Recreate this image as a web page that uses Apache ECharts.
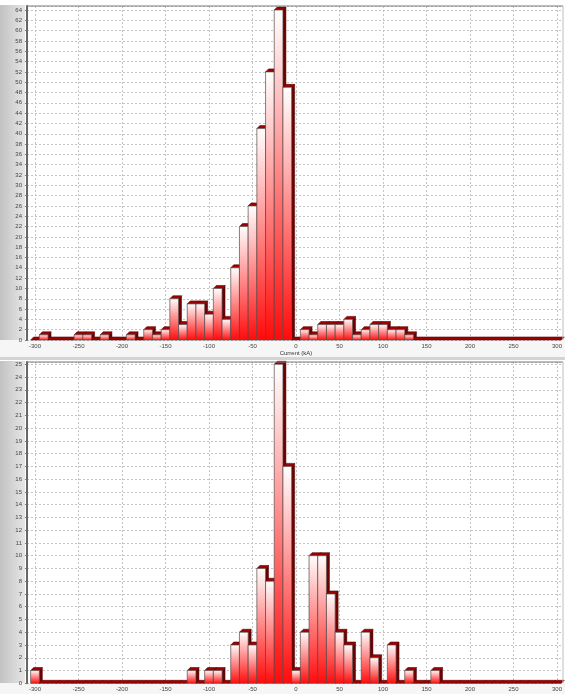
<!DOCTYPE html>
<html>
<head>
<meta charset="utf-8">
<script src="https://cdn.jsdelivr.net/npm/echarts@6/dist/echarts.min.js"></script>
<style>
  html, body { margin: 0; padding: 0; background: #ffffff; }
  #chart { width: 565px; height: 694px; }
</style>
</head>
<body>
<div id="chart"></div>
<script>
// Bin centres (kA), 10 kA wide bins
const binCenters = [
  -300, -290, -280, -270, -260, -250, -240, -230, -220, -210,
  -200, -190, -180, -170, -160, -150, -140, -130, -120, -110,
  -100, -90, -80, -70, -60, -50, -40, -30, -20, -10,
  0, 10, 20, 30, 40, 50, 60, 70, 80, 90,
  100, 110, 120, 130, 140, 150, 160, 170, 180, 190,
  200, 210, 220, 230, 240, 250, 260, 270, 280, 290,
  300
];
// Upper histogram counts
const topCounts = [
  0, 1, 0, 0, 0, 1, 1, 0, 1, 0,
  0, 1, 0, 2, 1, 2, 8, 3, 7, 7,
  5, 10, 4, 14, 22, 26, 41, 52, 64, 49,
  0, 2, 1, 3, 3, 3, 4, 1, 2, 3,
  3, 2, 2, 1, 0, 0, 0, 0, 0, 0,
  0, 0, 0, 0, 0, 0, 0, 0, 0, 0,
  0
];
// Lower histogram counts
const bottomCounts = [
  1, 0, 0, 0, 0, 0, 0, 0, 0, 0,
  0, 0, 0, 0, 0, 0, 0, 0, 1, 0,
  1, 1, 0, 3, 4, 3, 9, 8, 25, 17,
  1, 4, 10, 10, 7, 4, 3, 0, 4, 2,
  0, 3, 0, 1, 0, 0, 1, 0, 0, 0,
  0, 0, 0, 0, 0, 0, 0, 0, 0, 0,
  0
];
const xMin = -300, xMax = 300, xStep = 50;
const topYMax = 64.78, topYStep = 2;
const botYMax = 25.18, botYStep = 1;
const binHalf = 5;
const xTitle = 'Current (kA)';

const chart = echarts.init(document.getElementById('chart'), null, { renderer: 'canvas' });

const FONT = 'Liberation Sans';
const DEPTH = 3;

function renderBar(params, api) {
  const v = api.value(0), n = api.value(1);
  const pTop = api.coord([v - binHalf, n]);
  const pBot = api.coord([v + binHalf, 0]);
  const x0 = pTop[0], x1 = pBot[0], yT = pTop[1], yB = pBot[1];
  const d = DEPTH;
  const children = [];
  if (yB - yT > 0.5) {
    children.push({
      type: 'polygon',
      shape: { points: [[x1, yT], [x1 + d, yT - d], [x1 + d, yB - d], [x1, yB]] },
      style: { fill: '#6e0000', stroke: '#4a0000', lineWidth: 0.5 }
    });
  }
  children.push({
    type: 'polygon',
    shape: { points: [[x0, yT], [x0 + d, yT - d], [x1 + d, yT - d], [x1, yT]] },
    style: { fill: '#a00000', stroke: '#5a0000', lineWidth: 0.6 }
  });
  if (yB - yT > 0.5) {
    children.push({
      type: 'rect',
      shape: { x: x0, y: yT, width: x1 - x0, height: yB - yT },
      style: {
        fill: new echarts.graphic.LinearGradient(0, 0, 0, 1, [
          { offset: 0, color: '#ffffff' },
          { offset: 1, color: '#ff0a0a' }
        ]),
        stroke: '#5a4a4a', lineWidth: 0.7
      }
    });
  }
  return { type: 'group', children: children };
}

function gridLine() {
  return { show: true, lineStyle: { color: '#c4c4c4', width: 1, type: [2, 2] } };
}

const stripGrad = () => new echarts.graphic.LinearGradient(0, 0, 1, 0, [
  { offset: 0, color: '#c2c2c2' },
  { offset: 1, color: '#e6e6e6' }
]);

const option = {
  backgroundColor: '#ffffff',
  animation: false,
  textStyle: { fontFamily: FONT },
  graphic: [
    { type: 'rect', z: -100, shape: { x: 0, y: 5, width: 25, height: 335 }, style: { fill: stripGrad() } },
    { type: 'rect', z: -100, shape: { x: 0, y: 340, width: 565, height: 17 }, style: { fill: '#f6f6f6' } },
    { type: 'rect', z: -100, shape: { x: 0, y: 357, width: 565, height: 3 }, style: { fill: '#d4d4d4' } },
    { type: 'rect', z: -100, shape: { x: 0, y: 361, width: 25, height: 322.3 }, style: { fill: stripGrad() } },
    { type: 'rect', z: -100, shape: { x: 0, y: 683.3, width: 565, height: 11 }, style: { fill: '#f6f6f6' } },
    { type: 'line', z: 100, shape: { x1: 26, y1: 6, x2: 563, y2: 6 }, style: { stroke: '#7a7a7a', lineWidth: 1 } },
    { type: 'line', z: 100, shape: { x1: 563, y1: 6, x2: 563, y2: 340 }, style: { stroke: '#bcbcbc', lineWidth: 1 } },
    { type: 'line', z: 100, shape: { x1: 26, y1: 362, x2: 563, y2: 362 }, style: { stroke: '#7a7a7a', lineWidth: 1 } },
    { type: 'line', z: 100, shape: { x1: 563, y1: 362, x2: 563, y2: 683.3 }, style: { stroke: '#bcbcbc', lineWidth: 1 } }
  ],
  grid: [
    { left: 27, right: 2, top: 6, height: 334, show: true, backgroundColor: '#ffffff', borderWidth: 0 },
    { left: 35, width: 524, top: 6, height: 334 },
    { left: 27, right: 2, top: 362, height: 321.3, show: true, backgroundColor: '#ffffff', borderWidth: 0 },
    { left: 35, width: 524, top: 362, height: 321.3 }
  ],
  xAxis: [
    { gridIndex: 0, type: 'value', min: 0, max: 1, show: false },
    {
      gridIndex: 1, type: 'value', min: xMin, max: xMax, interval: xStep,
      axisLine: { show: false }, axisTick: { show: false },
      axisLabel: { fontSize: 6, color: '#444', margin: 3, fontFamily: FONT },
      splitLine: gridLine(),
      name: xTitle, nameLocation: 'middle', nameGap: 10,
      nameTextStyle: { fontSize: 6, color: '#333', fontFamily: FONT }
    },
    { gridIndex: 2, type: 'value', min: 0, max: 1, show: false },
    {
      gridIndex: 3, type: 'value', min: xMin, max: xMax, interval: xStep,
      axisLine: { show: false }, axisTick: { show: false },
      axisLabel: { fontSize: 6, color: '#444', margin: 3, fontFamily: FONT },
      splitLine: gridLine()
    }
  ],
  yAxis: [
    {
      gridIndex: 0, type: 'value', min: 0, max: topYMax, interval: topYStep,
      axisLine: { show: true, lineStyle: { color: '#666', width: 2 } },
      axisTick: { show: true, length: 2, lineStyle: { color: '#777' } },
      axisLabel: { fontSize: 6, color: '#444', margin: 5, showMaxLabel: false, fontFamily: FONT },
      splitLine: gridLine()
    },
    { gridIndex: 1, type: 'value', min: 0, max: topYMax, show: false },
    {
      gridIndex: 2, type: 'value', min: 0, max: botYMax, interval: botYStep,
      axisLine: { show: true, lineStyle: { color: '#666', width: 2 } },
      axisTick: { show: true, length: 2, lineStyle: { color: '#777' } },
      axisLabel: { fontSize: 6, color: '#444', margin: 5, showMaxLabel: false, fontFamily: FONT },
      splitLine: gridLine()
    },
    { gridIndex: 3, type: 'value', min: 0, max: botYMax, show: false }
  ],
  series: [
    {
      type: 'custom', xAxisIndex: 1, yAxisIndex: 1, clip: false,
      renderItem: renderBar,
      encode: { x: 0, y: 1 },
      data: binCenters.map((c, i) => [c, topCounts[i]])
    },
    {
      type: 'custom', xAxisIndex: 3, yAxisIndex: 3, clip: false,
      renderItem: renderBar,
      encode: { x: 0, y: 1 },
      data: binCenters.map((c, i) => [c, bottomCounts[i]])
    }
  ]
};
chart.setOption(option);
</script>
</body>
</html>
